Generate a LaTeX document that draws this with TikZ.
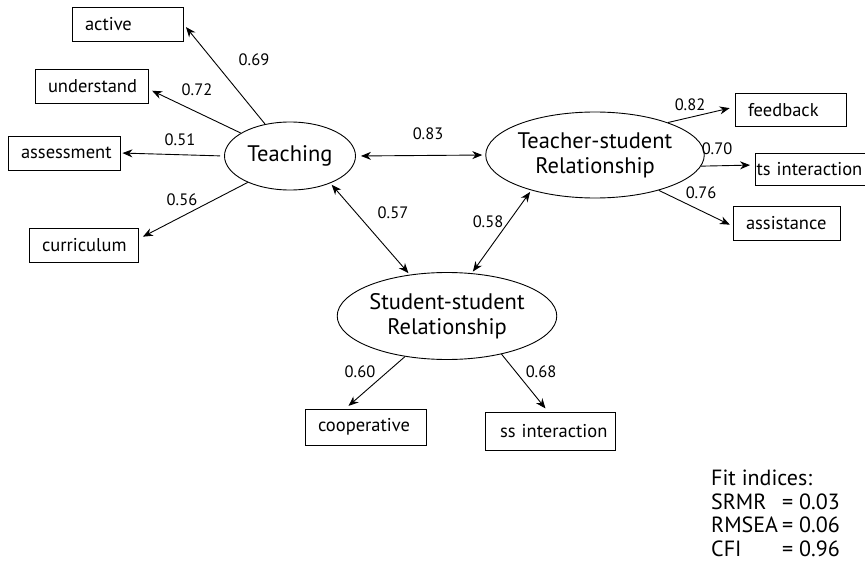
\documentclass[tikz,border=0pt]{standalone}
\usepackage{fontspec}
\setmainfont{PT Sans}
\usetikzlibrary{arrows.meta,shapes.geometric}
\begin{document}
\begin{tikzpicture}[x=1pt,y=-1pt,
  ind/.style={draw,line width=0.9pt,rectangle,minimum height=34pt,inner xsep=13pt,inner ysep=0pt,align=left,font=\fontsize{18.5}{21}\selectfont},
  lat/.style={draw,line width=0.9pt,ellipse,inner sep=0pt,align=center,font=\fontsize{22.5}{25}\selectfont},
  arr/.style={line width=0.9pt,-{Stealth[length=10pt,width=8pt]}},
  darr/.style={line width=0.9pt,{Stealth[length=10pt,width=8pt]}-{Stealth[length=10pt,width=8pt]}},
  lab/.style={font=\fontsize{16.5}{19}\selectfont,inner sep=0pt}]
\useasboundingbox (0,0) rectangle (865,567);
\fill[white] (0,0) rectangle (865,567);
% latent variables
\node[lat,minimum width=131pt,minimum height=68pt] (teach) at (290,156) {Teaching};
\node[lat,minimum width=174pt,minimum height=86pt] (ts) at (595,155) {Teacher-student\\Relationship};
\node[lat,minimum width=189pt,minimum height=87pt] (ss) at (447,316) {Student-student\\Relationship};
% indicators
\node[ind,text width=85pt] (active) at (127.5,24) {\mbox{active}};
\node[ind,text width=87pt] (underst) at (91.5,86) {\mbox{understand}};
\node[ind,text width=86pt] (assess) at (64,153) {\mbox{assessment}};
\node[ind,text width=83pt] (curric) at (83.5,245) {\mbox{curriculum}};
\node[ind,text width=85pt,minimum height=33pt] (feedb) at (790.5,110) {\mbox{feedback}};
\node[ind,text width=108pt,inner xsep=1pt,minimum height=32pt] (tsint) at (810.5,169) {\mbox{ts interaction}};
\node[ind,text width=81pt] (assist) at (786.5,223) {\mbox{assistance}};
\node[ind,text width=95pt,minimum height=36pt] (coop) at (365.5,427) {\mbox{cooperative}};
\node[ind,text width=100pt,inner xsep=15pt,minimum height=38pt] (ssint) at (550,431) {\mbox{ss interaction}};
% loadings (yshift is in canvas units: positive = up on the page)
\draw[arr,shorten >=4pt] (teach.128) -- (active.east);
\draw[arr,shorten >=4pt] (teach.155) -- ([yshift=-3pt]underst.east);
\draw[arr,shorten <=4pt,shorten >=2pt] (teach.180) -- (assess.east);
\draw[arr,shorten >=5pt] (teach.212) -- ([yshift=6pt]curric.east);
\draw[darr,shorten <=5pt,shorten >=3pt] (teach.east) -- (ts.west);
\draw[darr,shorten <=2pt,shorten >=2pt] (teach.326) -- (ss.132);
\draw[darr,shorten <=2pt,shorten >=2pt] (ts.209) -- (ss.60);
\draw[arr,shorten >=5pt] (ts.24) -- ([yshift=3pt]feedb.west);
\draw[arr,shorten >=5pt] (ts.354) -- ([yshift=4pt]tsint.west);
\draw[arr,shorten >=3pt] (ts.331) -- ([yshift=-3pt]assist.west);
\draw[arr,shorten >=4pt] (ss.224) -- ([xshift=-20pt]coop.north);
\draw[arr,shorten >=4pt] (ss.325) -- ([xshift=-2pt]ssint.north);
% coefficients
\node[lab] (l1) at (254,60) {0.69};
\node[lab] (l2) at (197,90) {0.72};
\node[lab] (l3) at (180,140) {0.51};
\node[lab] (l4) at (182,200) {0.56};
\node[lab] (l5) at (428,134) {0.83};
\node[lab] (l6) at (393,213) {0.57};
\node[lab] (l7) at (488,222) {0.58};
\node[lab] (l8) at (690,105) {0.82};
\node[lab] (l9) at (717,149) {0.70};
\node[lab] (l10) at (701,193) {0.76};
\node[lab] (l11) at (360,372) {0.60};
\node[lab] (l12) at (541,372) {0.68};
% fit indices
\node[anchor=north west,inner sep=0pt,align=left,font=\fontsize{22}{23.5}\selectfont] (fit) at (711,470)
  {Fit indices:\\
   \makebox[71pt][l]{SRMR}= 0.03\\
   \makebox[71pt][l]{RMSEA}= 0.06\\
   \makebox[71pt][l]{CFI}= 0.96};
\end{tikzpicture}
\end{document}
